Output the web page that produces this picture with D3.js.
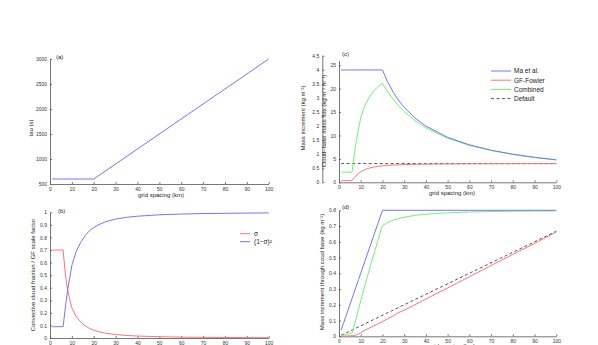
<!DOCTYPE html>
<html>
<head>
<meta charset="utf-8">
<script src="https://cdn.jsdelivr.net/npm/d3@7"></script>
<style>
    body { margin: 0; background: #fff; }
    svg { font-family: "Liberation Sans", Arial, sans-serif; }
    .axis path, .axis line { stroke: #555; stroke-width: 0.8; }
    .axis text { font-size: 5px; fill: #333; }
    .lbl { font-size: 6px; fill: #222; }
</style>
</head>
<body>
<svg id="chart" width="598" height="345"></svg>
<script>
// grid spacing samples (km)
var gridKm = [1, 2, 3, 4, 5, 6, 7, 8, 9, 10, 12, 14, 16, 18, 20, 22, 25, 27, 30, 35, 40, 50, 60, 70, 80, 90, 100];

// (a) tau
var tauKm = [1, 20, 100];
var tauSec = [600, 600, 3000];

// (b) convective cloud fraction and GF scale factor
var sigma = [0.7, 0.7, 0.7, 0.7, 0.7, 0.7, 0.51, 0.39, 0.31, 0.24, 0.17, 0.128, 0.098, 0.077, 0.0625, 0.052, 0.04, 0.034, 0.028, 0.02, 0.0156, 0.01, 0.007, 0.005, 0.004, 0.003, 0.0025];
var scaleFactor = [0.09, 0.09, 0.09, 0.09, 0.09, 0.09, 0.24, 0.372, 0.477, 0.578, 0.689, 0.76, 0.813, 0.852, 0.879, 0.899, 0.922, 0.933, 0.945, 0.96, 0.969, 0.98, 0.986, 0.99, 0.992, 0.994, 0.995];

// (c) cloud-base mass flux (kg m-2 hr-1)
var fluxMa = [24, 24, 24, 24, 24, 24, 24, 24, 24, 24, 24, 24, 24, 24, 24, 21.82, 19.2, 17.78, 16, 13.71, 12, 9.6, 8, 6.86, 6, 5.33, 4.8];
var fluxGF = [0.36, 0.36, 0.36, 0.36, 0.36, 0.36, 0.96, 1.49, 1.91, 2.25, 2.73, 3.04, 3.25, 3.41, 3.52, 3.6, 3.69, 3.73, 3.78, 3.84, 3.88, 3.92, 3.94, 3.96, 3.97, 3.98, 3.98];
var fluxComb = [2.16, 2.16, 2.16, 2.16, 2.16, 2.16, 5.76, 8.93, 11.45, 13.8, 16.5, 18.24, 19.51, 20.45, 21.1, 19.62, 17.7, 16.58, 15.12, 13.16, 11.63, 9.41, 7.89, 6.79, 5.95, 5.3, 4.78];
var defKm = [1, 100];
var fluxDef = [4, 4];

// (d) mass increment through cloud base (kg m-2)
var incMa = [0.04, 0.08, 0.12, 0.16, 0.2, 0.24, 0.28, 0.32, 0.36, 0.4, 0.48, 0.56, 0.64, 0.72, 0.8, 0.8, 0.8, 0.8, 0.8, 0.8, 0.8, 0.8, 0.8, 0.8, 0.8, 0.8, 0.8];
var incGF = [0.0006, 0.0012, 0.0018, 0.0024, 0.003, 0.0036, 0.004, 0.009, 0.016, 0.023, 0.04, 0.053, 0.066, 0.08, 0.094, 0.108, 0.13, 0.148, 0.166, 0.2, 0.237, 0.307, 0.378, 0.45, 0.52, 0.59, 0.663];
var incComb = [0.0036, 0.0072, 0.0108, 0.0144, 0.018, 0.0216, 0.067, 0.119, 0.172, 0.225, 0.327, 0.426, 0.52, 0.613, 0.703, 0.719, 0.738, 0.746, 0.756, 0.768, 0.775, 0.784, 0.789, 0.792, 0.794, 0.795, 0.796];
var incDef = [0.0067, 0.667];

var legendC = ["Ma et al.", "GF-Fowler", "Combined", "Default"];
var legendB = ["\u03c3", "(1\u2212\u03c3)\u00b2"];

var cBlue = "#7474ff", cRed = "#ff7474", cGreen = "#74f074", cDef = "#555";

var svg = d3.select("#chart");
svg.append("rect").attr("width", 598).attr("height", 345).attr("fill", "#fff");

var fmt = d3.format("~g");

function leftAxis(scale, x, ticks) {
    svg.append("g").attr("class", "axis")
        .attr("transform", "translate(" + x + ",0)")
        .call(d3.axisLeft(scale).tickValues(ticks).tickFormat(fmt).tickSizeInner(-2).tickSizeOuter(0).tickPadding(3));
}

function bottomAxis(scale, y) {
    svg.append("g").attr("class", "axis")
        .attr("transform", "translate(0," + y + ")")
        .call(d3.axisBottom(scale).tickValues(d3.range(0, 101, 10)).tickSizeInner(-2).tickSizeOuter(0).tickPadding(3));
}

function drawLine(xs, ys, x, y, color, dash) {
    var pts = xs.map(function (d, i) { return [d, ys[i]]; });
    svg.append("path")
        .attr("d", d3.line().x(function (d) { return x(d[0]); }).y(function (d) { return y(d[1]); })(pts))
        .attr("fill", "none")
        .attr("stroke", color)
        .attr("stroke-width", 1)
        .attr("stroke-dasharray", dash || null);
}

function label(txt, x, y, rot, anchor) {
    svg.append("text").attr("class", "lbl")
        .attr("transform", "translate(" + x + "," + y + ")" + (rot ? " rotate(-90)" : ""))
        .attr("text-anchor", anchor || "middle")
        .text(txt);
}

// ---- panel (a)
var xa = d3.scaleLinear().domain([0, 100]).range([50, 268.7]);
var ya = d3.scaleLinear().domain([500, 3000]).range([184, 59]);
leftAxis(ya, 50, d3.range(500, 3001, 500));
bottomAxis(xa, 184);
drawLine(tauKm, tauSec, xa, ya, cBlue);
label("grid spacing (km)", 161, 197);
label("tau (s)", 33, 128, true);
label("(a)", 56, 59, false, "start");

// ---- panel (b)
var xb = d3.scaleLinear().domain([0, 100]).range([50, 268.7]);
var yb = d3.scaleLinear().domain([0, 1]).range([338, 212.3]);
leftAxis(yb, 50, d3.range(0, 11).map(function (d) { return d / 10; }));
bottomAxis(xb, 338);
drawLine(gridKm, sigma, xb, yb, cRed);
drawLine(gridKm, scaleFactor, xb, yb, cBlue);
label("Convective cloud fraction / GF scale factor", 35, 275, true);
label("(b)", 58, 213, false, "start");
[cRed, cBlue].forEach(function (c, i) {
    var ly = 233.7 + i * 8;
    svg.append("line").attr("x1", 240).attr("x2", 250).attr("y1", ly).attr("y2", ly)
        .attr("stroke", c).attr("stroke-width", 1);
    svg.append("text").attr("class", "lbl").attr("x", 254).attr("y", ly + 2)
        .style("font-size", "6.5px").text(legendB[i]);
});

// ---- panel (c)
var xc = d3.scaleLinear().domain([0, 100]).range([339, 556.3]);
var yc = d3.scaleLinear().domain([0, 26]).range([182.3, 60.6]);
var ycOuter = d3.scaleLinear().domain([0, 4.5]).range([182.3, 55.7]);
leftAxis(ycOuter, 322.3, d3.range(0, 10).map(function (d) { return d / 2; }));
leftAxis(yc, 339, d3.range(0, 26, 5));
bottomAxis(xc, 182.3);
drawLine(defKm, fluxDef, xc, yc, cDef, "3,2.5");
drawLine(gridKm, fluxGF, xc, yc, cRed);
drawLine(gridKm, fluxComb, xc, yc, cGreen);
drawLine(gridKm, fluxMa, xc, yc, cBlue);
label("grid spacing (km)", 452, 195);
label("Mass increment (kg m\u207b\u00b2)", 305, 118, true);
label("Cloud\u2013base mass flux (kg m\u207b\u00b2 hr\u207b\u00b9)", 326, 121, true);
label("(c)", 342, 55.5, false, "start");
[cBlue, cRed, cGreen, cDef].forEach(function (c, i) {
    var ly = 71 + i * 9.2;
    svg.append("line").attr("x1", 491).attr("x2", 511).attr("y1", ly).attr("y2", ly)
        .attr("stroke", c).attr("stroke-width", 1)
        .attr("stroke-dasharray", i == 3 ? "3,2.5" : null);
    svg.append("text").attr("class", "lbl").attr("x", 514).attr("y", ly + 2.3)
        .style("font-size", "6.5px").text(legendC[i]);
});

// ---- panel (d)
var xd = d3.scaleLinear().domain([0, 100]).range([339, 556.3]);
var yd = d3.scaleLinear().domain([0, 0.8]).range([336.3, 210.3]);
leftAxis(yd, 339, d3.range(0, 9).map(function (d) { return d / 10; }));
bottomAxis(xd, 336.3);
drawLine(defKm, incDef, xd, yd, cDef, "3,2.5");
drawLine(gridKm, incGF, xd, yd, cRed);
drawLine(gridKm, incComb, xd, yd, cGreen);
drawLine(gridKm, incMa, xd, yd, cBlue);
// the reference clips this label at the bottom edge as well
label("grid spacing (km)", 452, 348);
label("Mass increment through coud base (kg m\u207b\u00b2)", 323.5, 272, true);
label("(d)", 342, 209, false, "start");
</script>
</body>
</html>
